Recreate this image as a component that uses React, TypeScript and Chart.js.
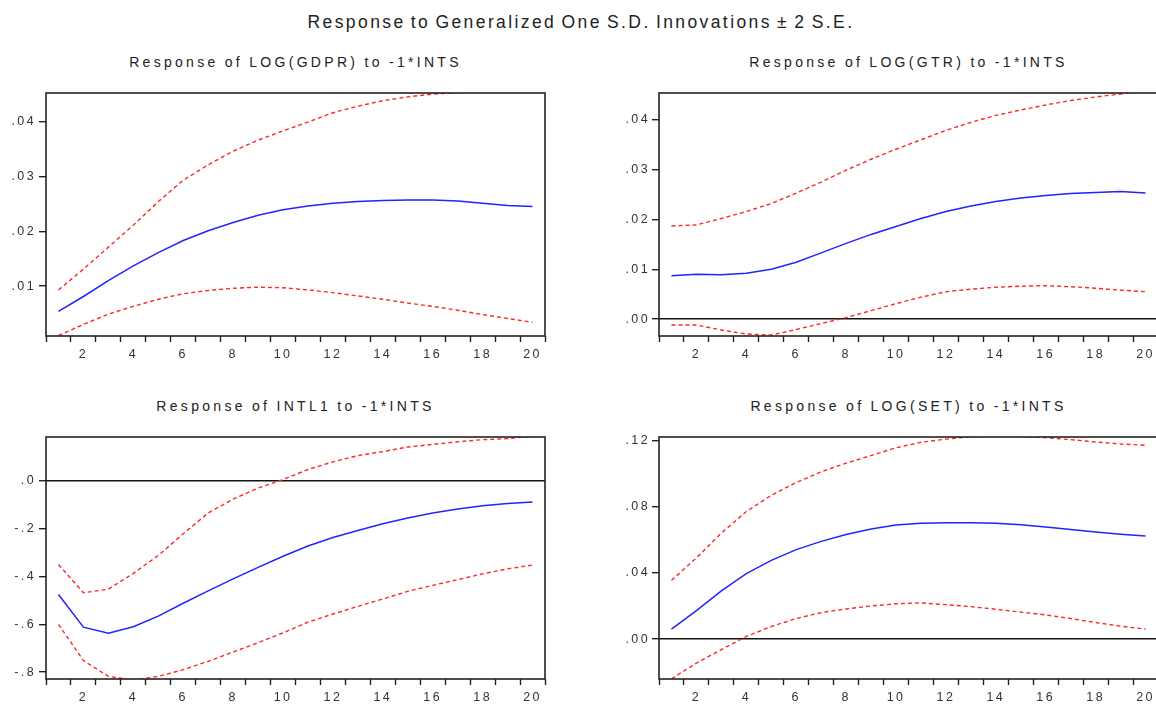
import React, { useEffect, useRef } from 'react';
import { Chart, registerables } from 'chart.js';

Chart.register(...registerables);

const PERIODS = ['1', '2', '3', '4', '5', '6', '7', '8', '9', '10', '11', '12', '13', '14', '15', '16', '17', '18', '19', '20'];

const MAIN_TITLE = 'Response to Generalized One S.D. Innovations \u00B1 2 S.E.';

const GDPR_TITLE = 'Response of LOG(GDPR) to -1*INTS';
const GDPR_RESP = [0.0054, 0.0081, 0.0110, 0.0137, 0.0161, 0.0183, 0.0201, 0.0216, 0.0229, 0.0239, 0.0246, 0.0251, 0.0254, 0.0256, 0.0257, 0.0257, 0.0255, 0.0251, 0.0247, 0.0245];
const GDPR_UPPER = [0.0093, 0.0131, 0.0171, 0.0211, 0.0254, 0.0293, 0.0321, 0.0346, 0.0366, 0.0383, 0.0399, 0.0416, 0.0428, 0.0438, 0.0445, 0.0450, 0.0453, 0.0456, 0.0459, 0.0461];
const GDPR_LOWER = [0.0010, 0.0030, 0.0049, 0.0063, 0.0076, 0.0086, 0.0092, 0.0096, 0.0098, 0.0097, 0.0093, 0.0088, 0.0082, 0.0076, 0.0069, 0.0063, 0.0056, 0.0048, 0.0041, 0.0034];
const GDPR_TICKS = [0.01, 0.02, 0.03, 0.04];

const GTR_TITLE = 'Response of LOG(GTR) to -1*INTS';
const GTR_RESP = [0.0087, 0.0090, 0.0089, 0.0092, 0.0100, 0.0114, 0.0133, 0.0152, 0.0170, 0.0186, 0.0202, 0.0216, 0.0227, 0.0236, 0.0243, 0.0248, 0.0252, 0.0254, 0.0256, 0.0253];
const GTR_UPPER = [0.0187, 0.0189, 0.0202, 0.0216, 0.0232, 0.0253, 0.0275, 0.0299, 0.0321, 0.0341, 0.0360, 0.0379, 0.0395, 0.0409, 0.0420, 0.0430, 0.0439, 0.0446, 0.0452, 0.0458];
const GTR_LOWER = [-0.0012, -0.0012, -0.0022, -0.0030, -0.0032, -0.0021, -0.0009, 0.0003, 0.0017, 0.0031, 0.0044, 0.0055, 0.0060, 0.0064, 0.0066, 0.0067, 0.0065, 0.0062, 0.0058, 0.0055];
const GTR_TICKS = [0, 0.01, 0.02, 0.03, 0.04];

const INTL1_TITLE = 'Response of INTL1 to -1*INTS';
const INTL1_RESP = [-0.475, -0.612, -0.637, -0.610, -0.566, -0.512, -0.460, -0.410, -0.362, -0.315, -0.272, -0.237, -0.207, -0.179, -0.155, -0.134, -0.117, -0.104, -0.094, -0.088];
const INTL1_UPPER = [-0.350, -0.468, -0.453, -0.387, -0.312, -0.221, -0.134, -0.076, -0.030, 0.006, 0.048, 0.080, 0.106, 0.123, 0.142, 0.153, 0.164, 0.173, 0.177, 0.188];
const INTL1_LOWER = [-0.600, -0.752, -0.818, -0.834, -0.818, -0.790, -0.755, -0.716, -0.677, -0.636, -0.591, -0.557, -0.525, -0.494, -0.462, -0.437, -0.413, -0.389, -0.368, -0.352];
const INTL1_TICKS = [-0.8, -0.6, -0.4, -0.2, 0];

const SET_TITLE = 'Response of LOG(SET) to -1*INTS';
const SET_RESP = [0.0060, 0.0172, 0.0291, 0.0395, 0.0475, 0.0540, 0.0590, 0.0631, 0.0664, 0.0689, 0.0700, 0.0703, 0.0703, 0.0700, 0.0690, 0.0676, 0.0661, 0.0646, 0.0633, 0.0622];
const SET_UPPER = [0.0355, 0.0490, 0.0640, 0.0770, 0.0868, 0.0945, 0.1010, 0.1062, 0.1108, 0.1155, 0.1188, 0.1207, 0.1222, 0.1226, 0.1224, 0.1216, 0.1204, 0.1190, 0.1178, 0.1170];
const SET_LOWER = [-0.0240, -0.0145, -0.0063, 0.0016, 0.0076, 0.0124, 0.0160, 0.0182, 0.0200, 0.0213, 0.0218, 0.0208, 0.0196, 0.0180, 0.0163, 0.0146, 0.0124, 0.0100, 0.0078, 0.0060];
const SET_TICKS = [0, 0.04, 0.08, 0.12];

const FONT = '"Liberation Sans", Arial, sans-serif';
const BLUE = '#2323ff';
const RED = '#ff2626';
const FRAME = '#222222';

function fmt(v: number, d: number): string {
  const s = Number(v).toFixed(d);
  return s.replace(/^(-?)0\./, '$1.');
}

const framePlugin = {
  id: 'frame',
  afterDatasetsDraw(chart: any) {
    const { ctx, chartArea } = chart;
    const { left, top, right, bottom } = chartArea;
    ctx.save();
    ctx.strokeStyle = FRAME;
    ctx.lineWidth = 1.6;
    ctx.strokeRect(left, top, right - left, bottom - top);
    ctx.restore();
  },
};

const spacingPlugin = {
  id: 'spacing',
  beforeDraw(chart: any) {
    (chart.ctx as any).letterSpacing = '2.4px';
  },
  afterDraw(chart: any) {
    (chart.ctx as any).letterSpacing = '0px';
  },
};

type Geo = {
  left: number;
  top: number;
  width: number;
  height: number;
  padTop: number;
  padRight: number;
  yWidth: number;
  xHeight: number;
  yPad: number;
};

type PanelProps = {
  resp: number[];
  upper: number[];
  lower: number[];
  ticks: number[];
  decimals: number;
  min: number;
  max: number;
  geo: Geo;
};

function Panel({ resp, upper, lower, ticks, decimals, min, max, geo }: PanelProps) {
  const ref = useRef<HTMLCanvasElement | null>(null);
  useEffect(() => {
    if (!ref.current) return;
    const chart = new Chart(ref.current, {
      type: 'line',
      data: {
        labels: PERIODS,
        datasets: [
          { data: upper, borderColor: RED, borderWidth: 1.4, borderDash: [4, 3], pointRadius: 0, tension: 0, fill: false },
          { data: lower, borderColor: RED, borderWidth: 1.4, borderDash: [4, 3], pointRadius: 0, tension: 0, fill: false },
          { data: resp, borderColor: BLUE, borderWidth: 1.5, pointRadius: 0, tension: 0, fill: false },
        ],
      },
      options: {
        animation: false,
        responsive: false,
        maintainAspectRatio: false,
        layout: { padding: { top: geo.padTop, right: geo.padRight, left: 0, bottom: 0 } },
        plugins: { legend: { display: false }, tooltip: { enabled: false }, title: { display: false } },
        scales: {
          x: {
            type: 'category',
            offset: true,
            border: { display: false },
            grid: { offset: true, drawOnChartArea: false, drawTicks: true, tickLength: 6, tickColor: FRAME, tickWidth: 1.4, color: FRAME },
            ticks: {
              autoSkip: false,
              maxRotation: 0,
              padding: 5,
              color: '#333',
              font: { family: FONT, size: 12.5 },
              callback: (_v: any, i: number) => ((i + 1) % 2 === 0 ? PERIODS[i] : ''),
            },
            afterFit: (s: any) => { s.height = geo.xHeight; },
          },
          y: {
            type: 'linear',
            min,
            max,
            border: { display: false },
            grid: {
              drawOnChartArea: true,
              drawTicks: true,
              tickLength: 7,
              tickColor: FRAME,
              tickWidth: 1.4,
              lineWidth: 1.4,
              color: (c: any) => (c.tick && Math.abs(c.tick.value) < 1e-12 ? '#111' : 'rgba(0,0,0,0)'),
            },
            ticks: {
              padding: geo.yPad,
              color: '#333',
              font: { family: FONT, size: 12.5 },
              callback: (v: any) => fmt(Number(v), decimals),
            },
            afterBuildTicks: (s: any) => { s.ticks = ticks.map((v) => ({ value: v })); },
            afterFit: (s: any) => { s.width = geo.yWidth; },
          },
        },
      },
      plugins: [framePlugin, spacingPlugin],
    });
    return () => chart.destroy();
  }, []);
  return (
    <canvas
      ref={ref}
      width={geo.width}
      height={geo.height}
      style={{ position: 'absolute', left: geo.left, top: geo.top, width: geo.width, height: geo.height }}
    />
  );
}

const subStyle = (left: number, top: number, width: number): React.CSSProperties => ({
  position: 'absolute',
  left,
  top,
  width,
  textAlign: 'center',
  fontFamily: FONT,
  fontSize: 14,
  letterSpacing: '3.3px',
  wordSpacing: '-1px',
  color: '#222',
  lineHeight: '16px',
  whiteSpace: 'nowrap',
});

export default function App() {
  const geoTL: Geo = { left: 0, top: 80, width: 570, height: 300, padTop: 13, padRight: 25, yWidth: 46, xHeight: 44, yPad: 3 };
  const geoTR: Geo = { left: 580, top: 80, width: 600, height: 300, padTop: 13, padRight: 22, yWidth: 79, xHeight: 44, yPad: 2 };
  const geoBL: Geo = { left: 0, top: 420, width: 570, height: 284, padTop: 17, padRight: 25, yWidth: 46, xHeight: 25, yPad: 3 };
  const geoBR: Geo = { left: 580, top: 420, width: 600, height: 284, padTop: 17, padRight: 22, yWidth: 79, xHeight: 25, yPad: 2 };
  return (
    <div style={{ position: 'fixed', left: 0, top: 0, width: 1156, height: 704, overflow: 'hidden', background: '#fff' }}>
      <div
        style={{
          position: 'absolute',
          left: 0,
          top: 12,
          width: 1162,
          textAlign: 'center',
          fontFamily: FONT,
          fontSize: 17.5,
          letterSpacing: '2.4px',
          wordSpacing: '-2px',
          color: '#222',
          lineHeight: '20px',
          whiteSpace: 'nowrap',
        }}
      >
        {MAIN_TITLE}
      </div>
      <div style={subStyle(46, 54, 499)}>{GDPR_TITLE}</div>
      <div style={subStyle(659, 54, 499)}>{GTR_TITLE}</div>
      <div style={subStyle(46, 398, 499)}>{INTL1_TITLE}</div>
      <div style={subStyle(659, 398, 499)}>{SET_TITLE}</div>
      <Panel resp={GDPR_RESP} upper={GDPR_UPPER} lower={GDPR_LOWER} ticks={GDPR_TICKS} decimals={2} min={0.0009} max={0.0452} geo={geoTL} />
      <Panel resp={GTR_RESP} upper={GTR_UPPER} lower={GTR_LOWER} ticks={GTR_TICKS} decimals={2} min={-0.0034} max={0.0454} geo={geoTR} />
      <Panel resp={INTL1_RESP} upper={INTL1_UPPER} lower={INTL1_LOWER} ticks={INTL1_TICKS} decimals={1} min={-0.829} max={0.184} geo={geoBL} />
      <Panel resp={SET_RESP} upper={SET_UPPER} lower={SET_LOWER} ticks={SET_TICKS} decimals={2} min={-0.0241} max={0.122} geo={geoBR} />
    </div>
  );
}
